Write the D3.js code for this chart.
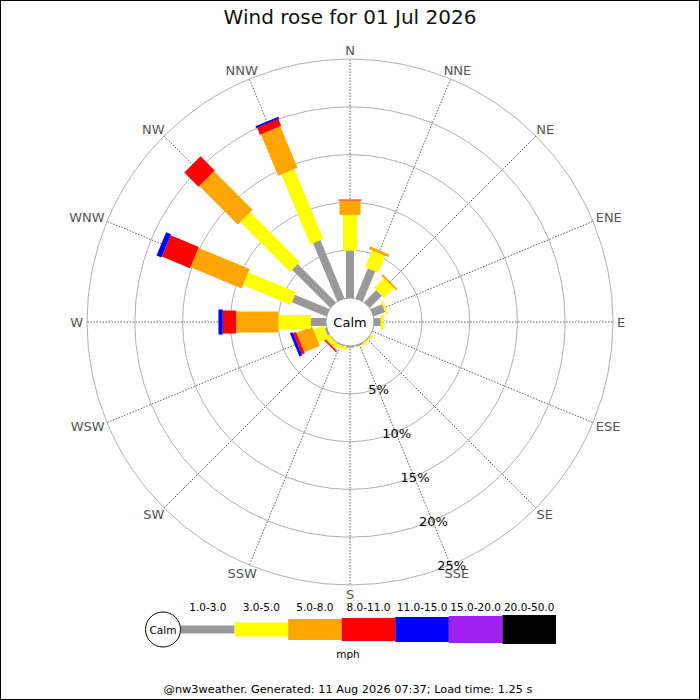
<!DOCTYPE html>
<html lang="en">
<head>
<meta charset="UTF-8">
<title>Wind rose</title>
<script src="https://d3js.org/d3.v7.min.js"></script>
<style>
  body { margin: 0; background: #fff; }
  svg text { font-family: "DejaVu Sans", sans-serif; }
</style>
</head>
<body>
<div id="rose"></div>
<script>
// directions, clockwise from north
const directions = ["N","NNE","NE","ENE","E","ESE","SE","SSE","S","SSW","SW","WSW","W","WNW","NW","NNW"];
// speed bins (mph)
const speedBins = ["1.0-3.0","3.0-5.0","5.0-8.0","8.0-11.0","11.0-15.0","15.0-20.0","20.0-50.0"];
// % of time in each direction for each speed bin
const bin1to3   = [4.95, 3.4, 1.8, 1.3, 0.7, 0, 0.05, 0.15, 0.15, 0.1, 0.05, 0.2, 1.6, 3.9, 5.65, 6.6];
const bin3to5   = [3.75, 1.9, 1.45, 0.2, 0.3, 0, 0.2, 0.05, 0, 0.3, 0.45, 1.15, 3.4, 5.4, 7.35, 7.9];
const bin5to8   = [1.5, 0.3, 0.2, 0, 0, 0, 0, 0, 0, 0, 0.1, 1.75, 4.4, 5.8, 5.7, 4.7];
const bin8to11  = [0.1, 0, 0, 0, 0, 0, 0, 0, 0, 0, 0.15, 0.35, 1.4, 3.2, 2.1, 0.8];
const bin11to15 = [0, 0, 0, 0, 0, 0, 0, 0, 0, 0, 0, 0.3, 0.45, 0.55, 0, 0.2];
const bin15to20 = [0, 0, 0, 0, 0, 0, 0, 0, 0, 0, 0, 0, 0, 0, 0, 0];
const bin20to50 = [0, 0, 0, 0, 0, 0, 0, 0, 0, 0, 0, 0, 0, 0, 0, 0];
const ringTicks = [5, 10, 15, 20, 25];

const series = [bin1to3, bin3to5, bin5to8, bin8to11, bin11to15, bin15to20, bin20to50];
const binColors = ["#999999", "#ffff00", "#ffa500", "#ff0000", "#0000ff", "#a020f0", "#000000"];
const binWidths = [8, 14, 21, 23, 25, 27, 29];

const W = 700, H = 700, cx = 350, cy = 322;

const svg = d3.select("#rose").append("svg")
  .attr("width", W).attr("height", H);

svg.append("rect")
  .attr("x", 0.5).attr("y", 0.5).attr("width", W - 1).attr("height", H - 1)
  .attr("fill", "#fff").attr("stroke", "#000");

svg.append("text")
  .attr("x", cx).attr("y", 17)
  .attr("text-anchor", "middle").attr("dominant-baseline", "central")
  .attr("font-size", 20).attr("fill", "#111")
  .text("Wind rose for 01 Jul 2026");

// radius scale: 0% sits on the calm circle
const r = d3.scaleLinear().domain([0, 25]).range([24, 263]);
const angle = d3.scaleBand().domain(directions).range([0, 360]).align(0).paddingInner(0);
const ang = d => angle(d); // degrees clockwise from north
const rad = d => (ang(d) - 90) * Math.PI / 180;

const g = svg.append("g").attr("transform", `translate(${cx},${cy})`);

// rings
g.selectAll(".ring").data(ringTicks).join("circle")
  .attr("r", d => r(d))
  .attr("fill", "none").attr("stroke", "#b0b0b0").attr("stroke-width", 1);

// spokes
g.selectAll(".spoke").data(directions).join("line")
  .attr("x1", d => r(0) * Math.cos(rad(d))).attr("y1", d => r(0) * Math.sin(rad(d)))
  .attr("x2", d => r(25) * Math.cos(rad(d))).attr("y2", d => r(25) * Math.sin(rad(d)))
  .attr("stroke", "#333").attr("stroke-width", 0.8).attr("stroke-dasharray", "1.5,1.5");

// stacked bars
directions.forEach((dir, i) => {
  const bar = g.append("g").attr("transform", `rotate(${ang(dir)})`);
  let acc = 0;
  series.forEach((s, b) => {
    const v = s[i];
    if (v > 0) {
      bar.append("rect")
        .attr("x", -binWidths[b] / 2)
        .attr("y", -r(acc + v))
        .attr("width", binWidths[b])
        .attr("height", r(acc + v) - r(acc))
        .attr("fill", binColors[b]);
    }
    acc += v;
  });
});

// calm circle
g.append("circle").attr("r", r(0))
  .attr("fill", "#fff").attr("stroke", "#999").attr("stroke-width", 1);
g.append("text").attr("text-anchor", "middle").attr("dominant-baseline", "central")
  .attr("font-size", 13).attr("fill", "#000").text("Calm");

// direction labels, pushed out so the box sits just past the rim
const labR = 267;
g.selectAll(".dir").data(directions).join("text")
  .attr("text-anchor", "middle").attr("dominant-baseline", "central")
  .attr("font-size", 13).attr("fill", "#555")
  .text(d => d)
  .each(function(d) {
    const ux = Math.cos(rad(d)), uy = Math.sin(rad(d));
    const w = this.getComputedTextLength(), h = 10;
    d3.select(this)
      .attr("x", labR * ux + ux * w / 2)
      .attr("y", labR * uy + uy * h / 2);
  });

// percent labels along SSE spoke
g.selectAll(".pct").data(ringTicks).join("text")
  .attr("x", d => r(d) * Math.cos(rad("SSE")) + 1).attr("y", d => r(d) * Math.sin(rad("SSE")) + 1)
  .attr("text-anchor", "middle").attr("dominant-baseline", "central")
  .attr("font-size", 13).attr("fill", "#000")
  .text(d => d + "%");

// legend
const lx = d3.scaleBand().domain(speedBins).range([181, 556]);
const ly = 629.5;
const leg = svg.append("g");
leg.selectAll("rect").data(speedBins).join("rect")
  .attr("x", d => lx(d)).attr("width", lx.bandwidth())
  .attr("y", (d, b) => ly - binWidths[b] / 2).attr("height", (d, b) => binWidths[b])
  .attr("fill", (d, b) => binColors[b]);
leg.selectAll("text").data(speedBins).join("text")
  .attr("x", d => lx(d) + lx.bandwidth() / 2).attr("y", 607)
  .attr("text-anchor", "middle").attr("dominant-baseline", "central")
  .attr("font-size", 10.5).attr("fill", "#000")
  .text(d => d);
leg.append("circle").attr("cx", 163).attr("cy", ly).attr("r", 17.5)
  .attr("fill", "#fff").attr("stroke", "#000");
leg.append("text").attr("x", 163).attr("y", ly)
  .attr("text-anchor", "middle").attr("dominant-baseline", "central")
  .attr("font-size", 10.5).text("Calm");
leg.append("text").attr("x", 348).attr("y", 654)
  .attr("text-anchor", "middle").attr("dominant-baseline", "central")
  .attr("font-size", 10.5).text("mph");

svg.append("text")
  .attr("x", 348).attr("y", 689)
  .attr("text-anchor", "middle").attr("dominant-baseline", "central")
  .attr("font-size", 11.3).attr("fill", "#000")
  .text("@nw3weather. Generated: 11 Aug 2026 07:37; Load time: 1.25 s");
</script>
</body>
</html>
